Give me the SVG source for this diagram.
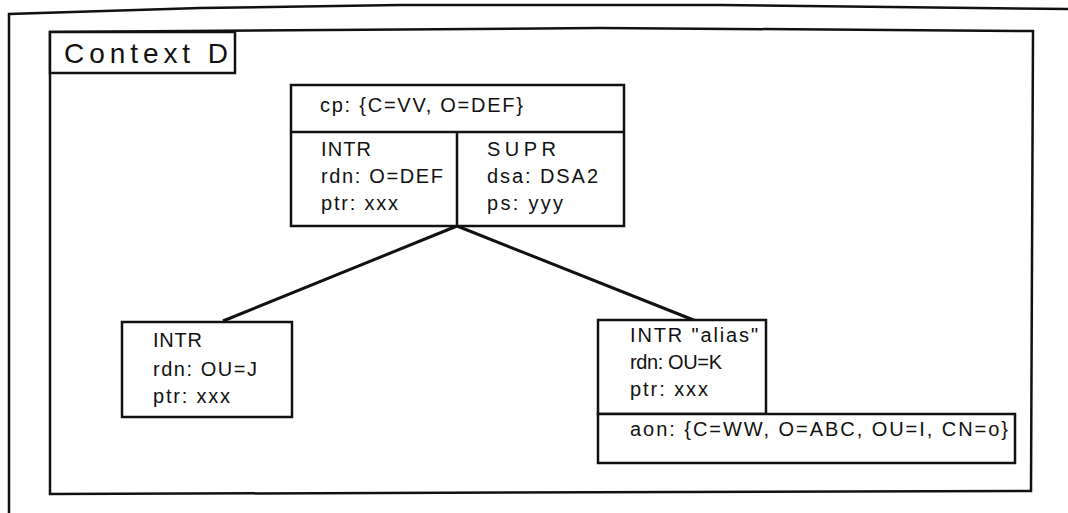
<svg xmlns="http://www.w3.org/2000/svg" width="1068" height="513" viewBox="0 0 1068 513">
<style>
.box{fill:#fff;stroke:#111;stroke-width:2.5}
.frame{fill:none;stroke:#111;stroke-width:2.5}
.t{font-family:"Liberation Sans",Arial,sans-serif;font-size:20px;fill:#111}
.title{font-family:"Liberation Sans",Arial,sans-serif;font-size:28px;fill:#111}
.edge{stroke:#111;stroke-width:3;fill:none}
</style>
<rect width="1068" height="513" fill="#fff"/>
<g id="page">
<polyline class="frame" points="9,513 9,14 200,8 400,5 720,5 1068,9"/>
</g>
<g id="context-frame">
<polygon class="frame" points="50,32 600,28 1033,31 1031,491 50,494"/>
</g>
<g id="context-label">
<rect class="box" x="50" y="32" width="185" height="41"/>
<text class="title" x="64" y="63" textLength="164" lengthAdjust="spacing">Context D</text>
</g>
<g id="connectors">
<line class="edge" x1="457" y1="226" x2="223" y2="321"/>
<line class="edge" x1="457" y1="226" x2="696" y2="321"/>
</g>
<g id="node-top">
<rect class="box" x="291" y="85" width="333" height="141"/>
<line class="box" x1="291" y1="132" x2="624" y2="132"/>
<line class="box" x1="457" y1="132" x2="457" y2="226"/>
<text class="t" x="320" y="112" textLength="203" lengthAdjust="spacing">cp: {C=VV, O=DEF}</text>
<text class="t" x="321" y="156" textLength="50" lengthAdjust="spacing">INTR</text>
<text class="t" x="321" y="183" textLength="122" lengthAdjust="spacing">rdn: O=DEF</text>
<text class="t" x="321" y="210" textLength="77" lengthAdjust="spacing">ptr: xxx</text>
<text class="t" x="487" y="156" textLength="69" lengthAdjust="spacing">SUPR</text>
<text class="t" x="487" y="183" textLength="111" lengthAdjust="spacing">dsa: DSA2</text>
<text class="t" x="487" y="210" textLength="76" lengthAdjust="spacing">ps: yyy</text>
</g>
<g id="node-left">
<rect class="box" x="122" y="322" width="170" height="95"/>
<text class="t" x="153" y="347" textLength="49" lengthAdjust="spacing">INTR</text>
<text class="t" x="153" y="376" textLength="104" lengthAdjust="spacing">rdn: OU=J</text>
<text class="t" x="153" y="403" textLength="77" lengthAdjust="spacing">ptr: xxx</text>
</g>
<g id="node-right">
<rect class="box" x="598" y="320" width="168" height="94"/>
<rect class="box" x="598" y="414" width="417" height="49"/>
<text class="t" x="630" y="342" textLength="128" lengthAdjust="spacing">INTR "alias"</text>
<text class="t" x="630" y="369" textLength="92" lengthAdjust="spacing">rdn: OU=K</text>
<text class="t" x="630" y="396" textLength="78" lengthAdjust="spacing">ptr: xxx</text>
<text class="t" x="630" y="436" textLength="378" lengthAdjust="spacing">aon: {C=WW, O=ABC, OU=I, CN=o}</text>
</g>
</svg>
